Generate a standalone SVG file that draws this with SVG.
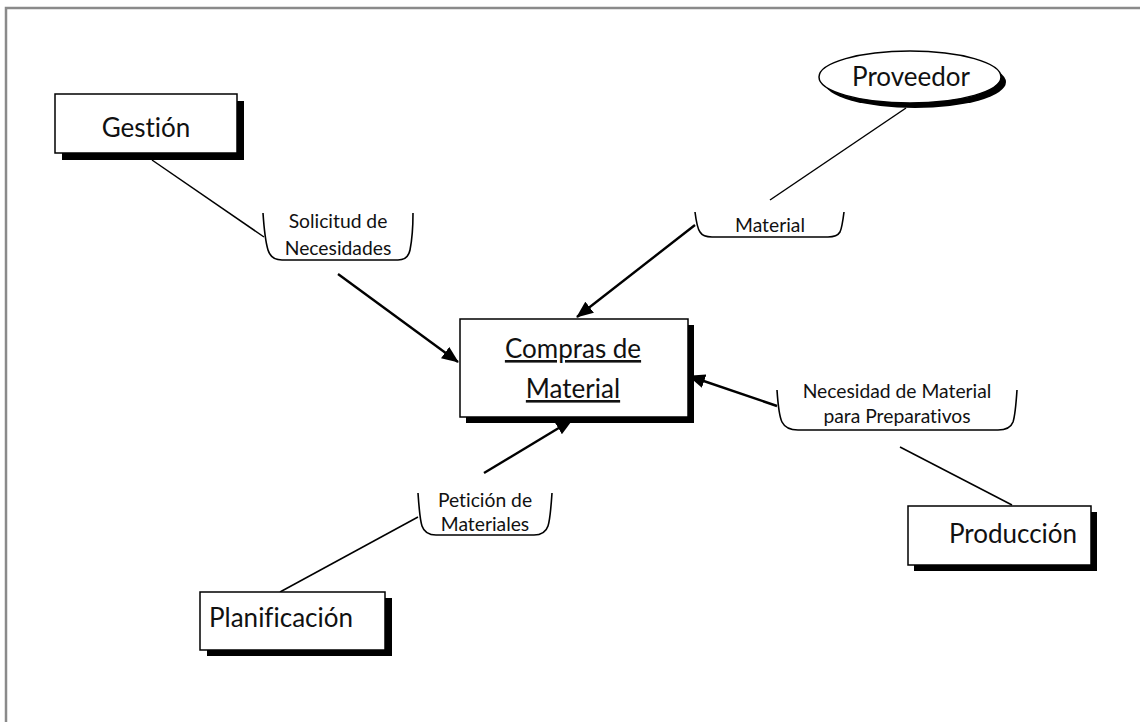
<svg xmlns="http://www.w3.org/2000/svg" width="1140" height="722" viewBox="0 0 1140 722">
<defs>
<style>
.box{fill:#fff;stroke:#000;stroke-width:1.5}
.shadow{fill:#000}
text{font-variant-ligatures:none;font-feature-settings:"liga" 0,"clig" 0}
.big{font-family:Lato,"Open Sans","Liberation Sans",sans-serif;font-size:26px;fill:#111;text-anchor:middle}
.small{font-family:Lato,"Open Sans","Liberation Sans",sans-serif;font-size:19.3px;fill:#111;text-anchor:middle}
.thin{stroke:#000;stroke-width:1.5;fill:none}
.arrow{stroke:#000;stroke-width:2.4;fill:none;marker-end:url(#ah)}
.brk{stroke:#000;stroke-width:1.6;fill:none}
</style>
<marker id="ah" markerUnits="userSpaceOnUse" markerWidth="20" markerHeight="14" refX="16" refY="7" orient="auto">
<path d="M0,0 L17,7 L0,14 Z" fill="#000"/>
</marker>
</defs>
<rect width="1140" height="722" fill="#fff"/>
<path d="M6,722 L6,8 L1140,8" fill="none" stroke="#8a8a8a" stroke-width="2.5"/>

<g id="connectors">
<line class="thin" x1="152" y1="160" x2="264" y2="237"/>
<line class="arrow" x1="338" y1="274" x2="458" y2="362"/>
<line class="thin" x1="906" y1="108" x2="770" y2="200"/>
<line class="arrow" x1="695" y1="225" x2="577" y2="317"/>
<line class="thin" x1="1012" y1="505" x2="900" y2="447"/>
<line class="arrow" x1="777" y1="406" x2="689" y2="376"/>
<line class="thin" x1="280" y1="592" x2="418" y2="517"/>
<line class="arrow" x1="484" y1="473" x2="572" y2="420"/>
</g>

<g id="gestion">
<rect class="shadow" x="62" y="101" width="182" height="59"/>
<rect class="box" x="55" y="94" width="182" height="59"/>
<text class="big" x="146" y="137">Gestión</text>
</g>

<g id="proveedor">
<ellipse class="shadow" cx="915" cy="82" rx="91" ry="26"/>
<ellipse class="box" cx="910" cy="77" rx="91" ry="26"/>
<text class="big" x="911" y="86">Proveedor</text>
</g>

<g id="compras">
<rect class="shadow" x="466" y="325" width="228" height="98"/>
<rect class="box" x="460" y="319" width="228" height="98"/>
<text class="big" x="573" y="358" text-decoration="underline">Compras de</text>
<text class="big" x="573" y="398" text-decoration="underline">Material</text>
</g>

<g id="produccion">
<rect class="shadow" x="914" y="512" width="183" height="59"/>
<rect class="box" x="908" y="506" width="183" height="59"/>
<text class="big" x="1013" y="543">Producción</text>
</g>

<g id="planificacion">
<rect class="shadow" x="207" y="598" width="185" height="58"/>
<rect class="box" x="200" y="592" width="185" height="58"/>
<text class="big" x="281" y="627">Planificación</text>
</g>

<g id="solicitud">
<path class="brk" d="M263,213 C264,228 265,240 268,250 Q271,260 282,260 L398,260 Q408,260 410,250 C412,240 413,228 413,213"/>
<text class="small" x="338" y="228">Solicitud de</text>
<text class="small" x="338" y="255">Necesidades</text>
</g>

<g id="material">
<path class="brk" d="M695,212 C696,220 697,228 700,232 Q703,237 712,237 L828,237 Q837,237 840,232 C842,228 843,220 844,212"/>
<text class="small" x="770" y="232">Material</text>
</g>

<g id="necesidad">
<path class="brk" d="M777,390 C778,405 779,416 782,422 Q786,430 798,430 L998,430 Q1010,430 1013,422 C1015,416 1016,405 1017,390"/>
<text class="small" x="897" y="398">Necesidad de Material</text>
<text class="small" x="897" y="423">para Preparativos</text>
</g>

<g id="peticion">
<path class="brk" d="M418,493 C419,508 420,520 422,526 Q425,535 436,535 L534,535 Q545,535 548,526 C550,520 551,508 552,493"/>
<text class="small" x="485" y="507">Petición de</text>
<text class="small" x="485" y="531">Materiales</text>
</g>
</svg>
